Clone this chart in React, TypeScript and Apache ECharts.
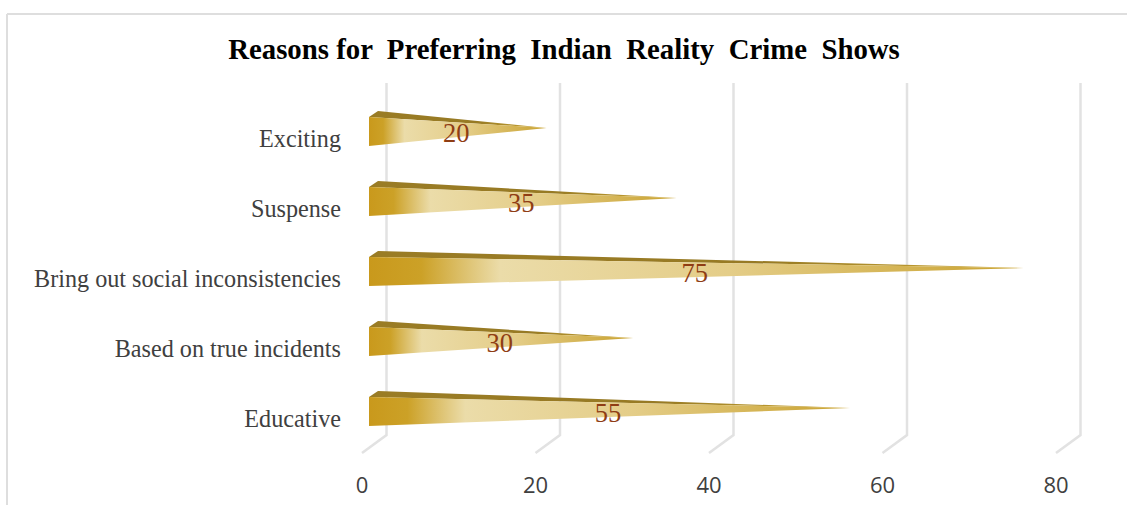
import React, { useEffect, useRef } from "react";
import * as echarts from "echarts";

const titleText = "Reasons for  Preferring  Indian  Reality  Crime  Shows";
const categories = ["Educative", "Based on true incidents", "Bring out social inconsistencies", "Suspense", "Exciting"];
const values = [55, 30, 75, 35, 20];
const ticks = [0, 20, 40, 60, 80];

const SERIF = "'Liberation Serif', serif";

export default function App() {
  const ref = useRef<HTMLDivElement>(null);
  useEffect(() => {
    const chart = echarts.init(ref.current!, undefined, { renderer: "svg" });
    const frontGrad = new echarts.graphic.LinearGradient(0, 0, 1, 0, [
      { offset: 0, color: "#c9991c" },
      { offset: 0.08, color: "#cca127" },
      { offset: 0.2, color: "#ebdca9" },
      { offset: 0.55, color: "#e4cd88" },
      { offset: 1, color: "#c9a22f" },
    ]);
    const topGrad = new echarts.graphic.LinearGradient(0, 0, 1, 0, [
      { offset: 0, color: "#9a7c25" },
      { offset: 0.6, color: "#977a24" },
      { offset: 1, color: "#d0aa35" },
    ]);
    chart.setOption({
      animation: false,
      backgroundColor: "#ffffff",
      title: {
        text: titleText,
        left: 559,
        top: 29,
        textAlign: "center",
        textStyle: { fontFamily: SERIF, fontWeight: "bold", fontSize: 28.8, color: "#000000" },
      },
      graphic: [
        { type: "line", shape: { x1: 7, y1: 14, x2: 1127, y2: 14 }, style: { stroke: "#dedede", lineWidth: 2 } },
        { type: "line", shape: { x1: 7, y1: 14, x2: 7, y2: 505 }, style: { stroke: "#dedede", lineWidth: 2 } },
      ],
      grid: { left: 362, top: 103, width: 694, height: 350 },
      xAxis: {
        type: "value",
        min: 0,
        max: 80,
        interval: 20,
        axisLine: { show: false },
        axisTick: { show: false },
        splitLine: { show: false },
        axisLabel: { fontFamily: "'Open Sans', sans-serif", fontSize: 22, color: "#404040", margin: 20 },
      },
      yAxis: {
        type: "category",
        data: categories,
        axisLine: { show: false },
        axisTick: { show: false },
        axisLabel: { fontFamily: SERIF, fontSize: 24.2, color: "#404040", margin: 21, padding: [0, 0, 2, 0] },
      },
      series: [
        {
          type: "custom",
          clip: false,
          z: 1,
          data: ticks.map((t) => [t]),
          encode: { x: 0 },
          renderItem: (params: any, api: any) => {
            const x = api.coord([api.value(0), 0])[0];
            const cs = params.coordSys;
            const bottom = cs.y + cs.height;
            return {
              type: "polyline",
              shape: { points: [[x + 24.5, cs.y - 20], [x + 24.5, bottom - 18], [x, bottom]] },
              style: { stroke: "#e2e2e2", lineWidth: 2.5, fill: "none" },
            };
          },
        },
        {
          type: "custom",
          clip: false,
          z: 2,
          data: values.map((v, i) => [v, i]),
          encode: { x: 0, y: 1 },
          renderItem: (_params: any, api: any) => {
            const [vx, cy] = api.coord([api.value(0), api.value(1)]);
            const [x0] = api.coord([0, api.value(1)]);
            const bx = x0 + 7;
            const tip = vx + 11;
            const tipY = cy - 10;
            return {
              type: "group",
              children: [
                {
                  type: "polygon",
                  shape: { points: [[bx, cy - 21], [bx + 9, cy - 27], [tip, tipY]] },
                  style: { fill: topGrad },
                },
                {
                  type: "polygon",
                  shape: { points: [[bx, cy - 21], [bx, cy + 8], [tip, tipY]] },
                  style: { fill: frontGrad },
                },
                {
                  type: "text",
                  style: {
                    text: String(api.value(0)),
                    x: (bx + tip) / 2 - 1.5,
                    y: cy - 5,
                    align: "center",
                    verticalAlign: "middle",
                    fontFamily: SERIF,
                    fontSize: 26.5,
                    fill: "#8f3d14",
                  },
                },
              ],
            };
          },
        },
      ],
    });
    return () => chart.dispose();
  }, []);
  return <div ref={ref} style={{ position: "fixed", left: 0, top: 0, width: 1127, height: 505 }} />;
}
